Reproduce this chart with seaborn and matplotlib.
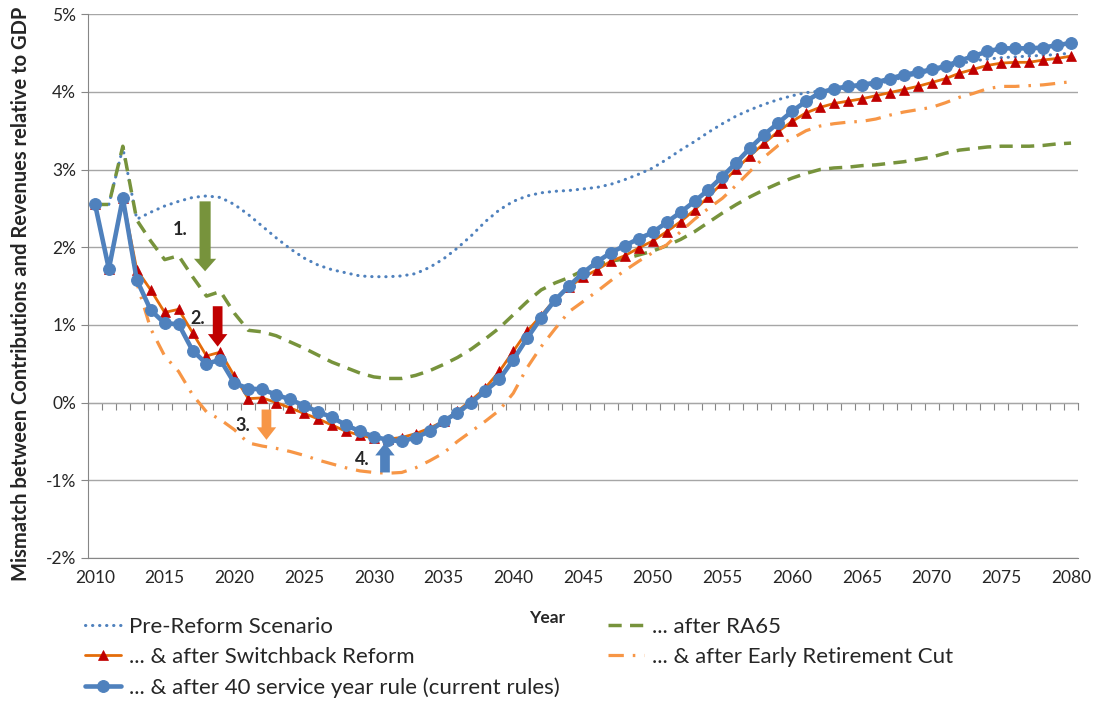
import numpy as np
import pandas as pd
import seaborn as sns
import matplotlib.pyplot as plt

years = list(range(2010, 2081))

pre_reform = [2.55, 2.55, 3.28, 2.36, 2.45, 2.53, 2.59, 2.64, 2.66, 2.64,
              2.55, 2.42, 2.27, 2.12, 1.98, 1.86, 1.77, 1.71, 1.67, 1.63,
              1.62, 1.62, 1.63, 1.66, 1.74, 1.85, 1.99, 2.15, 2.33, 2.48,
              2.59, 2.66, 2.70, 2.72, 2.73, 2.75, 2.77, 2.81, 2.87, 2.94,
              3.02, 3.13, 3.25, 3.36, 3.48, 3.59, 3.69, 3.77, 3.84, 3.90,
              3.95, 3.99, 4.01, 4.03, 4.05, 4.07, 4.10, 4.14, 4.19, 4.23,
              4.27, 4.31, 4.36, 4.40, 4.42, 4.44, 4.45, 4.46, 4.47, 4.48,
              4.50]

after_ra65 = [2.55, 2.55, 3.30, 2.35, 2.08, 1.84, 1.89, 1.62, 1.37, 1.43,
              1.15, 0.93, 0.91, 0.86, 0.78, 0.70, 0.61, 0.52, 0.45, 0.38,
              0.33, 0.31, 0.31, 0.35, 0.41, 0.49, 0.58, 0.69, 0.82, 0.96,
              1.13, 1.30, 1.45, 1.54, 1.61, 1.70, 1.77, 1.82, 1.85, 1.90,
              1.95, 2.02, 2.10, 2.20, 2.32, 2.44, 2.55, 2.65, 2.74, 2.82,
              2.89, 2.95, 3.00, 3.02, 3.03, 3.05, 3.06, 3.08, 3.10, 3.13,
              3.16, 3.21, 3.25, 3.27, 3.29, 3.30, 3.30, 3.30, 3.31, 3.33,
              3.34]

switchback = [2.56, 1.72, 2.63, 1.71, 1.45, 1.16, 1.20, 0.90, 0.60, 0.65,
              0.34, 0.05, 0.06, 0.00, -0.07, -0.14, -0.21, -0.29, -0.37, -0.42,
              -0.46, -0.47, -0.45, -0.40, -0.33, -0.24, -0.11, 0.03, 0.19, 0.40,
              0.66, 0.92, 1.12, 1.33, 1.49, 1.61, 1.71, 1.82, 1.89, 1.99,
              2.08, 2.20, 2.33, 2.48, 2.65, 2.83, 3.01, 3.18, 3.34, 3.49,
              3.62, 3.73, 3.80, 3.85, 3.88, 3.91, 3.95, 3.99, 4.03, 4.07,
              4.12, 4.17, 4.24, 4.29, 4.34, 4.37, 4.38, 4.38, 4.41, 4.43,
              4.46]

early_cut = [2.56, 1.72, 2.63, 1.54, 0.95, 0.60, 0.40, 0.10, -0.12, -0.22,
             -0.35, -0.52, -0.56, -0.59, -0.63, -0.68, -0.74, -0.79, -0.84, -0.88,
             -0.90, -0.91, -0.90, -0.84, -0.75, -0.65, -0.50, -0.37, -0.24, -0.10,
             0.12, 0.45, 0.72, 0.95, 1.17, 1.30, 1.43, 1.57, 1.70, 1.82,
             1.93, 2.03, 2.20, 2.36, 2.50, 2.63, 2.80, 2.98, 3.16, 3.31,
             3.40, 3.50, 3.56, 3.59, 3.61, 3.62, 3.65, 3.70, 3.74, 3.77,
             3.80, 3.86, 3.93, 3.98, 4.04, 4.07, 4.07, 4.08, 4.09, 4.11,
             4.13]

service40 = [2.56, 1.72, 2.63, 1.58, 1.19, 1.02, 1.01, 0.67, 0.50, 0.55,
             0.25, 0.18, 0.17, 0.10, 0.04, -0.04, -0.12, -0.19, -0.29, -0.37,
             -0.44, -0.48, -0.50, -0.45, -0.37, -0.24, -0.13, 0.00, 0.15, 0.30,
             0.55, 0.83, 1.09, 1.32, 1.50, 1.67, 1.81, 1.93, 2.02, 2.11,
             2.19, 2.32, 2.45, 2.59, 2.74, 2.91, 3.09, 3.28, 3.45, 3.60,
             3.75, 3.88, 3.99, 4.04, 4.07, 4.09, 4.12, 4.17, 4.22, 4.25,
             4.29, 4.33, 4.40, 4.46, 4.52, 4.56, 4.56, 4.56, 4.57, 4.60,
             4.63]

labels = ['Pre-Reform Scenario', '... after RA65', '... & after Switchback Reform',
          '... & after Early Retirement Cut',
          '... & after 40 service year rule (current rules)']

# reform steps: label, x, arrow tail, arrow tip, colour
step_names = ['1.', '2.', '3.', '4.']
step_years = [2017.9, 2018.8, 2022.3, 2030.8]
step_from = [2.59, 1.24, -0.09, -0.90]
step_to = [1.69, 0.72, -0.48, -0.52]
step_label_pos = [(2016.1, 2.23), (2017.4, 1.08), (2020.6, -0.30), (2029.2, -0.73)]

blue = '#4F81BD'
green = '#77933C'
orange = '#E46C0A'
red = '#C00000'
light_orange = '#F79646'
step_colors = [green, red, light_orange, blue]

sns.set_style('white')
plt.rcParams['font.family'] = ['Lato', 'DejaVu Sans']

fig = plt.figure(figsize=(10.94, 7.08), dpi=100)
ax = fig.add_axes([0.0804, 0.212, 0.905, 0.768])

sns.lineplot(x=years, y=pre_reform, ax=ax, color=blue, lw=2.2,
             linestyle=(0, (0.1, 2.2)), dash_capstyle='round', label=labels[0])
sns.lineplot(x=years, y=after_ra65, ax=ax, color=green, lw=2.5,
             linestyle=(0, (3.8, 2.4)), label=labels[1])
sns.lineplot(x=years, y=switchback, ax=ax, color=orange, lw=2.0,
             marker='^', markersize=7.5, markerfacecolor=red,
             markeredgecolor=red, markeredgewidth=0.5, label=labels[2])
sns.lineplot(x=years, y=early_cut, ax=ax, color=light_orange, lw=2.3,
             linestyle=(0, (4.8, 2.8, 0.8, 2.8)), label=labels[3])
sns.lineplot(x=years, y=service40, ax=ax, color=blue, lw=3.3,
             marker='o', markersize=8.5, markeredgecolor=blue, label=labels[4])

for name, yr, y0, y1, (lx, ly), col in zip(step_names, step_years, step_from,
                                          step_to, step_label_pos, step_colors):
    w = 0.8 if name == '1.' else 0.7
    hw = 1.6 if name == '1.' else 1.4
    ax.annotate('', xy=(yr, y1), xytext=(yr, y0),
                arrowprops=dict(arrowstyle=f'simple,head_length=0.9,head_width={hw},tail_width={w}',
                                color=col, mutation_scale=10, shrinkA=0, shrinkB=0, lw=0))
    ax.text(lx, ly, name, fontsize=13, fontweight='bold', ha='center', va='center')

ax.set_xlim(2009.5, 2080.5)
ax.set_ylim(-2, 5)
ax.set_yticks(range(-2, 6))
ax.set_yticklabels([f'{v}%' for v in range(-2, 6)])
ax.set_xticks(range(2010, 2081, 5))
ax.tick_params(axis='x', length=0, pad=9, labelsize=12.5, labelcolor='#262626')
ax.tick_params(axis='y', length=5, direction='out', color='#868686',
               labelsize=12.5, labelcolor='#262626', left=True)
ax.yaxis.grid(True, color='#A6A6A6', lw=1)
ax.set_axisbelow(True)
for side in ['top', 'right']:
    ax.spines[side].set_visible(False)
for side in ['left', 'bottom']:
    ax.spines[side].set_color('#868686')

zero_axis = ax.secondary_xaxis(2 / 7)
zero_axis.set_xticks(np.arange(2009.5, 2081, 1))
zero_axis.tick_params(length=5, direction='out', color='#868686', labelbottom=False)
zero_axis.spines['bottom'].set_color('#868686')

ax.set_xlabel('Year', fontsize=12.5, fontweight='bold')
ax.xaxis.set_label_coords(0.4636, -0.095)
ax.set_ylabel('Mismatch between Contributions and Revenues relative to GDP',
              fontsize=14.5, fontweight='bold')
ax.yaxis.set_label_coords(-0.058, 0.485)

handles, names = ax.get_legend_handles_labels()
order = [0, 2, 4, 1, 3]
ax.legend([handles[i] for i in order], [names[i] for i in order], ncol=2,
          loc='upper left', bbox_to_anchor=(0.0777, 0.1285), bbox_transform=fig.transFigure,
          frameon=False, fontsize=16, handlelength=1.6, handletextpad=0.36,
          columnspacing=2.2, labelspacing=0.45, borderpad=0, borderaxespad=0)

fig.savefig('out.png', dpi=100)
